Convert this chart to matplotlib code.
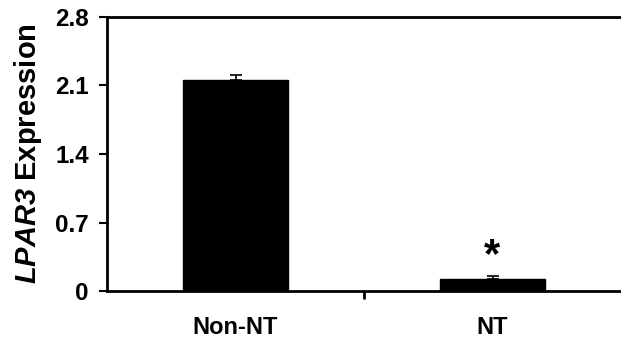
import matplotlib
matplotlib.use("Agg")
import matplotlib.pyplot as plt
from matplotlib.ticker import FixedLocator

categories = ["Non-NT", "NT"]
values = [2.155, 0.125]
errors = [0.055, 0.03]
yticks = [0, 0.7, 1.4, 2.1, 2.8]
ytick_labels = ["0", "0.7", "1.4", "2.1", "2.8"]

plt.rcParams['font.family'] = ['Liberation Sans', 'DejaVu Sans']
plt.rcParams['font.weight'] = 'bold'
plt.rcParams['mathtext.fontset'] = 'custom'
plt.rcParams['mathtext.bfit'] = 'Liberation Sans:italic:bold'

fig = plt.figure(figsize=(6.21, 3.39), dpi=100)
ax = fig.add_axes([107/621, 1 - 291/339, 514/621, 274/339])

x = list(range(len(categories)))
ax.bar(x, values, width=0.41, color='black', edgecolor='black', zorder=2)
ax.errorbar(x, values, yerr=[[0]*len(errors), errors], fmt='none', ecolor='black',
            elinewidth=1.2, capsize=4, capthick=1.2, zorder=3)

ax.set_xlim(-0.5, 1.5)
ax.set_ylim(0, 2.8)
ax.set_yticks(yticks)
ax.set_yticklabels(ytick_labels, fontsize=17.5, fontweight='bold')
ax.set_xticks(x)
ax.set_xticklabels(categories, fontsize=17, fontweight='bold')
ax.tick_params(axis='x', length=0, pad=18)
ax.xaxis.set_minor_locator(FixedLocator([0.5]))
ax.tick_params(axis='x', which='minor', length=6, width=2, direction='out')
ax.tick_params(axis='y', length=6, width=1.5, direction='out', pad=7)

for side in ['left', 'bottom', 'top']:
    ax.spines[side].set_linewidth(2)
ax.spines['right'].set_visible(False)

ax.set_ylabel(r"$\mathbfit{LPAR3}$ Expression", fontsize=21, fontweight='bold', labelpad=8)
ax.text(1, values[1] + errors[1] + 0.0, "*", ha='center', va='bottom',
        fontsize=30, fontweight='bold')

fig.savefig("out.png", dpi=100)
